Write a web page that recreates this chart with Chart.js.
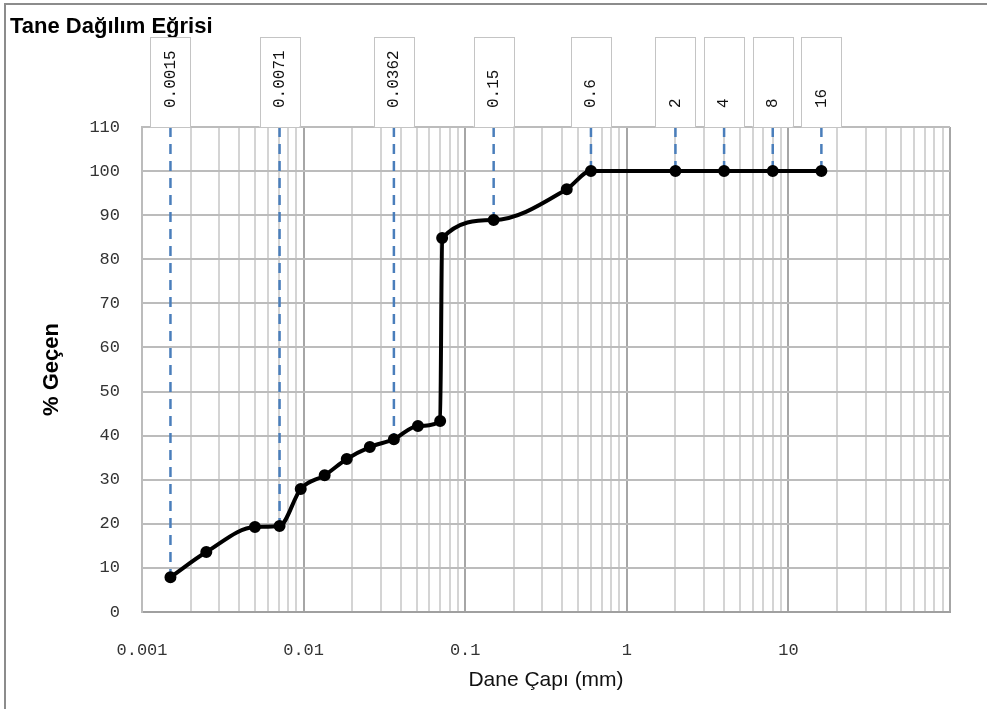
<!DOCTYPE html>
<html>
<head>
<meta charset="utf-8">
<title>Tane Dağılım Eğrisi</title>
<script src="https://cdn.jsdelivr.net/npm/chart.js@4.4.1/dist/chart.umd.min.js"></script>
<style>
    html, body { margin: 0; padding: 0; background: #fff; }
</style>
</head>
<body>
<canvas id="grafik" width="987" height="709"></canvas>
<script>
// elek + hidrometre sonuçları (mm, % geçen)
const daneCapi = [0.0015, 0.0025, 0.005, 0.0071, 0.0096, 0.0135, 0.0185, 0.0257, 0.0362, 0.051, 0.07, 0.072, 0.15, 0.425, 0.6, 2, 4, 8, 16];
const gecenYuzde = [7.9, 13.6, 19.3, 19.5, 27.9, 31.0, 34.7, 37.4, 39.2, 42.2, 43.3, 84.8, 88.9, 95.9, 100, 100, 100, 100, 100];

// üstte kutu içinde yazılan çaplar
const etiketCaplari = [0.0015, 0.0071, 0.0362, 0.15, 0.6, 2, 4, 8, 16];
const etiketMetinleri = ['0.0015', '0.0071', '0.0362', '0.15', '0.6', '2', '4', '8', '16'];

// eksenler
const xEtiketleri = ['0.001', '0.01', '0.1', '1', '10'];
const xMin = 0.001, xMax = 100;
const yMin = 0, yMax = 110, yAdim = 10;

const MONO = "'Liberation Mono', 'DejaVu Sans Mono', monospace";
const SANS = "'Liberation Sans', Arial, sans-serif";

// log eksen çizgileri: her onlukta 1..9
function logTikleri() {
    let tikler = [];
    for (let us = -3; us <= 1; us++) {
        for (let k = 1; k <= 9; k++) {
            tikler.push({ value: parseFloat((k * Math.pow(10, us)).toPrecision(3)), major: k === 1 });
        }
    }
    tikler.push({ value: xMax, major: true });
    return tikler;
}

// kesikli mavi iniş çizgileri
let inisCizgileri = etiketCaplari.map(cap => {
    let i = daneCapi.indexOf(cap);
    return {
        data: [{ x: cap, y: yMax }, { x: cap, y: gecenYuzde[i] }],
        borderColor: '#4a7ebb',
        borderWidth: 2.5,
        borderDash: [10, 7],
        pointRadius: 0,
        fill: false,
        order: 2
    };
});

// başlık, çerçeve ve üst etiket kutuları
const ekCizimler = {
    id: 'ekCizimler',
    afterDraw(chart) {
        const ctx = chart.ctx;
        const alan = chart.chartArea;
        const x = chart.scales.x;

        ctx.save();
        ctx.strokeStyle = '#8c8c8c';
        ctx.lineWidth = 2;
        ctx.strokeRect(5, 4, 1000, 720);

        ctx.fillStyle = '#000';
        ctx.font = 'bold 22px ' + SANS;
        ctx.textBaseline = 'middle';
        ctx.textAlign = 'left';
        ctx.fillText('Tane Dağılım Eğrisi', 10, 27);

        etiketCaplari.forEach((cap, i) => {
            let px = x.getPixelForValue(cap);
            let w = 40, ust = 37;
            ctx.fillStyle = '#fff';
            ctx.fillRect(px - w / 2, ust, w, alan.top - ust);
            ctx.strokeStyle = '#c4c4c4';
            ctx.lineWidth = 1;
            ctx.strokeRect(Math.round(px - w / 2) + 0.5, ust + 0.5, w, alan.top - ust);

            ctx.save();
            ctx.translate(px, 108);
            ctx.rotate(-Math.PI / 2);
            ctx.fillStyle = '#111';
            ctx.font = '16px ' + MONO;
            ctx.textAlign = 'left';
            ctx.textBaseline = 'middle';
            ctx.fillText(etiketMetinleri[i], 0, 0);
            ctx.restore();
        });
        ctx.restore();
    }
};

new Chart(document.getElementById('grafik').getContext('2d'), {
    type: 'line',
    data: {
        datasets: [{
            data: daneCapi.map((d, i) => ({ x: d, y: gecenYuzde[i] })),
            borderColor: '#000',
            backgroundColor: '#000',
            borderWidth: 4,
            pointRadius: 4,
            pointBackgroundColor: '#000',
            pointBorderColor: '#000',
            cubicInterpolationMode: 'monotone',
            fill: false,
            order: 1
        }].concat(inisCizgileri)
    },
    options: {
        responsive: false,
        animation: false,
        devicePixelRatio: 1,
        layout: { padding: { top: 127, right: 37, bottom: 0, left: 0 } },
        plugins: {
            legend: { display: false },
            tooltip: { enabled: false }
        },
        scales: {
            x: {
                type: 'logarithmic',
                min: xMin,
                max: xMax,
                afterBuildTicks: scale => { scale.ticks = logTikleri(); },
                afterFit: scale => { scale.height = 97; },
                ticks: {
                    autoSkip: false,
                    maxRotation: 0,
                    padding: 28,
                    color: '#333',
                    font: { family: MONO, size: 17 },
                    callback: function (deger) {
                        let etiket = xEtiketleri.find(e => parseFloat(e) === deger);
                        return etiket || '';
                    }
                },
                grid: {
                    drawTicks: false,
                    color: c => (c.tick && c.tick.major ? '#a6a6a6' : '#d4d4d4'),
                    lineWidth: 2
                },
                border: { color: '#a0a0a0', width: 2 },
                title: {
                    display: true,
                    text: 'Dane Çapı (mm)',
                    color: '#111',
                    font: { family: SANS, size: 21 },
                    padding: { top: 0, bottom: 16 }
                }
            },
            y: {
                min: yMin,
                max: yMax,
                afterFit: scale => { scale.width = 142; },
                ticks: {
                    stepSize: yAdim,
                    padding: 22,
                    color: '#333',
                    font: { family: MONO, size: 17 }
                },
                grid: {
                    drawTicks: false,
                    color: '#bcbcbc',
                    lineWidth: 2
                },
                border: { color: '#bcbcbc', width: 2 },
                title: {
                    display: true,
                    text: '% Geçen',
                    color: '#000',
                    font: { family: SANS, size: 22, weight: 'bold' },
                    padding: { top: 39, bottom: 0 }
                }
            }
        }
    },
    plugins: [ekCizimler]
});
</script>
</body>
</html>
